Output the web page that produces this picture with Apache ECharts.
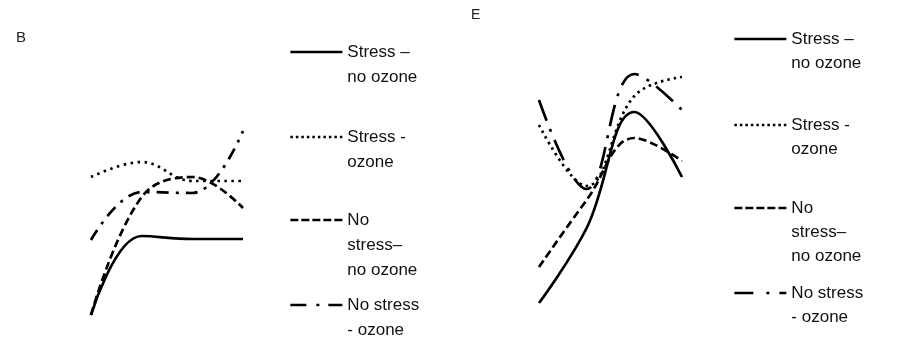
<!DOCTYPE html>
<html>
<head>
<meta charset="utf-8">
<script src="https://cdn.jsdelivr.net/npm/echarts@6/dist/echarts.min.js"></script>
<style>html,body{margin:0;padding:0;background:#fff}#c{width:901px;height:358px}</style>
</head>
<body>
<div id="c"></div>
<script>
// ---- data ----
const categories = ['1', '2', '3', '4'];
const seriesNames = ['Stress –\nno ozone', 'Stress -\nozone', 'No\nstress–\nno ozone', 'No stress\n- ozone'];
const panelLabels = ['B', 'E'];
// Panel B
const bStressNoOzone   = [15, 94, 91, 91];
const bStressOzone     = [153, 168, 149, 149];
const bNoStressNoOzone = [15, 133, 153, 122];
const bNoStressOzone   = [90, 138, 137, 199];
// Panel E
const eStressNoOzone   = [27, 102, 218, 153];
const eStressOzone     = [205, 144, 234, 253];
const eNoStressNoOzone = [63, 130, 192, 169];
const eNoStressOzone   = [230, 141, 256, 220];

const FONT = 'Liberation Sans, Arial, sans-serif';
const LW = 2.7;
const SMOOTH = 0.4;
const chart = echarts.init(document.getElementById('c'), null, {renderer: 'canvas'});

const styles = {
  B: [
    {width: LW, type: 'solid'},
    {width: LW, type: [2.5, 4.5]},
    {width: LW, type: [8, 4]},
    {width: LW, type: [12, 7, 3, 7]}
  ],
  E: [
    {width: LW, type: 'solid'},
    {width: LW, type: [2.5, 4]},
    {width: LW, type: [8, 4]},
    {width: LW, type: [22, 9, 3, 9]}
  ]
};
const legendStyles = {
  B: [
    {width: LW, type: 'solid'},
    {width: LW, type: [2.5, 3]},
    {width: LW, type: [8, 3]},
    {width: LW, type: [16, 10, 3, 9]}
  ],
  E: [
    {width: LW, type: 'solid'},
    {width: LW, type: [2.5, 3]},
    {width: LW, type: [8, 3]},
    {width: LW, type: [19, 13, 3, 10]}
  ]
};

const panelData = {
  B: [bStressNoOzone, bStressOzone, bNoStressNoOzone, bNoStressOzone],
  E: [eStressNoOzone, eStressOzone, eNoStressNoOzone, eNoStressOzone]
};

function makeSeries(panel, idx) {
  return panelData[panel].map((d, i) => ({
    type: 'line',
    name: seriesNames[i],
    xAxisIndex: idx, yAxisIndex: idx,
    data: d,
    smooth: SMOOTH,
    symbol: 'none',
    silent: true,
    lineStyle: Object.assign({color: '#000', cap: 'butt'}, styles[panel][i]),
    itemStyle: {color: '#000'}
  }));
}

function lineCount(name) { return name.split('\n').length; }

function makeLegends(panel, left, iconYs, lh) {
  return seriesNames.map((name, i) => {
    const n = lineCount(name);
    return {
      left: left,
      top: iconYs[i] - (2 * n - 1) * lh / 2,
      padding: 0,
      itemWidth: 52,
      itemHeight: 14,
      selectedMode: false,
      orient: 'vertical',
      data: [{name: name, lineStyle: Object.assign({color: '#000'}, legendStyles[panel][i]), itemStyle: {opacity: 0}}],
      formatter: nm => '\n'.repeat(n - 1) + nm,
      itemStyle: {opacity: 0},
      textStyle: {fontFamily: FONT, fontSize: 17, lineHeight: lh, color: '#111'}
    };
  });
}

const axisHidden = {show: false};
const option = {
  animation: false,
  backgroundColor: '#fff',
  title: [
    {text: panelLabels[0], left: 16, top: 30, padding: 0, textStyle: {fontFamily: FONT, fontSize: 15, fontWeight: 'normal', color: '#222'}},
    {text: panelLabels[1], left: 471, top: 8, padding: 0, textStyle: {fontFamily: FONT, fontSize: 14, fontWeight: 'normal', color: '#222'}}
  ],
  grid: [
    {left: 91, width: 152, top: 30, height: 300},
    {left: 539, width: 143, top: 30, height: 300}
  ],
  xAxis: [
    {type: 'category', gridIndex: 0, data: categories, boundaryGap: false, show: false},
    {type: 'category', gridIndex: 1, data: categories, boundaryGap: false, show: false}
  ],
  yAxis: [
    {type: 'value', gridIndex: 0, min: 0, max: 300, show: false, splitLine: axisHidden},
    {type: 'value', gridIndex: 1, min: 0, max: 300, show: false, splitLine: axisHidden}
  ],
  legend: [].concat(
    makeLegends('B', 289, [52, 137, 220, 305], 25),
    makeLegends('E', 733, [39, 125, 208, 293], 24)
  ),
  series: [].concat(makeSeries('B', 0), makeSeries('E', 1))
};
chart.setOption(option);
</script>
</body>
</html>
